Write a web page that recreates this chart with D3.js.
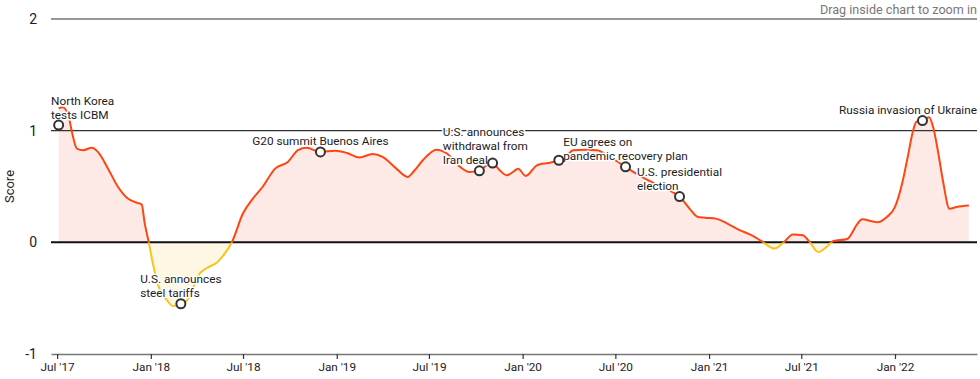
<!DOCTYPE html>
<html>
<head>
<meta charset="utf-8">
<script src="https://cdnjs.cloudflare.com/ajax/libs/d3/7.8.5/d3.min.js"></script>
<style>
	body { margin: 0; background: #fff; }
	svg { display: block; font-family: Roboto, "Noto Sans", sans-serif; }
</style>
</head>
<body>
<div id="chart"></div>
<script>
// weekly-ish readings of the score
const dates = [
	'2017-07-04', '2017-07-12', '2017-07-24', '2017-07-30', '2017-08-09', '2017-08-21', '2017-09-07', '2017-09-19',
	'2017-10-09', '2017-10-28', '2017-11-15', '2017-12-01', '2017-12-14', '2017-12-20', '2017-12-28', '2018-01-05',
	'2018-01-19', '2018-02-02', '2018-02-13', '2018-02-27', '2018-03-13', '2018-04-07', '2018-04-21', '2018-05-11',
	'2018-05-23', '2018-06-09', '2018-07-01', '2018-07-20', '2018-08-09', '2018-09-02', '2018-09-27', '2018-10-17',
	'2018-11-03', '2018-11-29', '2018-12-29', '2019-01-21', '2019-02-15', '2019-03-12', '2019-04-01', '2019-04-28',
	'2019-05-20', '2019-06-03', '2019-06-19', '2019-07-16', '2019-08-04', '2019-08-30', '2019-09-18', '2019-10-08',
	'2019-10-22', '2019-11-03', '2019-11-17', '2019-12-01', '2019-12-13', '2019-12-23', '2020-01-07', '2020-01-29',
	'2020-02-04', '2020-02-20', '2020-03-12', '2020-03-28', '2020-04-09', '2020-05-02', '2020-05-26', '2020-06-20',
	'2020-07-21', '2020-08-11', '2020-09-19', '2020-10-15', '2020-11-04', '2020-11-24', '2020-12-10', '2020-12-24',
	'2021-01-16', '2021-02-05', '2021-03-02', '2021-03-28', '2021-04-14', '2021-05-10', '2021-05-26', '2021-06-15',
	'2021-07-04', '2021-07-18', '2021-08-03', '2021-08-20', '2021-09-01', '2021-09-29', '2021-10-20', '2021-10-28',
	'2021-11-27', '2021-12-16', '2022-01-01', '2022-01-15', '2022-01-26', '2022-02-05', '2022-02-12', '2022-02-23',
	'2022-03-09', '2022-03-17', '2022-03-26', '2022-04-05', '2022-04-18', '2022-05-02', '2022-05-26'
];
const scores = [
	1.20, 1.21, 1.12, 0.99, 0.84, 0.825, 0.846, 0.81,
	0.66, 0.50, 0.40, 0.36, 0.34, 0.17, 0.0, -0.19,
	-0.43, -0.52, -0.57, -0.56, -0.52, -0.28, -0.23, -0.18,
	-0.12, 0.0, 0.26, 0.39, 0.50, 0.66, 0.72, 0.825,
	0.846, 0.81, 0.82, 0.80, 0.76, 0.79, 0.765, 0.66,
	0.586, 0.646, 0.735, 0.83, 0.80, 0.68, 0.63, 0.64,
	0.69, 0.71, 0.646, 0.60, 0.63, 0.66, 0.595, 0.69,
	0.70, 0.71, 0.735, 0.78, 0.825, 0.83, 0.825, 0.765,
	0.676, 0.615, 0.52, 0.466, 0.41, 0.30, 0.227, 0.22,
	0.21, 0.17, 0.11, 0.057, 0.01, -0.056, -0.006, 0.07,
	0.063, 0.0, -0.087, -0.04, 0.01, 0.03, 0.17, 0.206,
	0.18, 0.227, 0.317, 0.526, 0.765, 0.99, 1.08, 1.09,
	1.12, 1.03, 0.825, 0.556, 0.30, 0.317, 0.33
];

const eventDates = ['2017-07-04', '2018-03-01', '2018-11-30', '2019-10-08', '2019-11-03', '2020-03-12', '2020-07-21', '2020-11-04', '2022-02-24'];
const eventScores = [1.05, -0.55, 0.81, 0.64, 0.71, 0.735, 0.676, 0.41, 1.09];
const eventLabels = [
	['North Korea', 'tests ICBM'],
	['U.S. announces', 'steel tariffs'],
	['G20 summit Buenos Aires'],
	['U.S. announces', 'withdrawal from', 'Iran deal'],
	[],
	[],
	['EU agrees on', 'pandemic recovery plan'],
	['U.S. presidential', 'election'],
	['Russia invasion of Ukraine']
];
// small nudges for labels that were shifted to avoid collisions
const labelNudge = [0, 0, 0, 6, 0, 0, 0, 0, 0];

const yTicks = [-1, 0, 1, 2];
const yTitle = 'Score';
const hint = 'Drag inside chart to zoom in';

const option = {
	width: 980,
	height: 379,
	margin: { left: 51, right: 3, top: 19, bottom: 25 },
	posColor: '#ff4512',
	negColor: '#fcc419',
	posFill: '#fdeae6',
	negFill: '#fdf7e4',
	ink: '#1c1c1c'
};

const parse = d3.timeParse('%Y-%m-%d');
const series = dates.map((d, i) => ({ date: parse(d), value: scores[i] }));
const events = eventDates.map((d, i) => ({ date: parse(d), value: eventScores[i], lines: eventLabels[i], dx: labelNudge[i] }));

const drawRoot = function (element) {
	return d3.select(element).append('svg')
		.attr('width', option.width)
		.attr('height', option.height);
};

const makeScales = function () {
	let xScale = d3.scaleTime()
		.domain([parse('2017-06-19'), parse('2022-06-11')])
		.range([option.margin.left, option.width - option.margin.right]);
	let yScale = d3.scaleLinear()
		.domain([-1, 2])
		.range([option.height - option.margin.bottom, option.margin.top]);
	return { xScale, yScale };
};

const drawClips = function (svg, xScale, yScale) {
	let defs = svg.append('defs');
	defs.append('clipPath').attr('id', 'clipAbove')
		.append('rect')
		.attr('x', 0).attr('y', 0)
		.attr('width', option.width)
		.attr('height', yScale(0));
	defs.append('clipPath').attr('id', 'clipBelow')
		.append('rect')
		.attr('x', 0).attr('y', yScale(0))
		.attr('width', option.width)
		.attr('height', option.height - yScale(0));
};

const drawAreas = function (svg, xScale, yScale) {
	let area = d3.area()
		.curve(d3.curveMonotoneX)
		.x(d => xScale(d.date))
		.y0(yScale(0))
		.y1(d => yScale(d.value));

	svg.append('path').datum(series)
		.attr('d', area)
		.attr('fill', option.posFill)
		.attr('clip-path', 'url(#clipAbove)');
	svg.append('path').datum(series)
		.attr('d', area)
		.attr('fill', option.negFill)
		.attr('clip-path', 'url(#clipBelow)');
};

const drawAxes = function (svg, xScale, yScale) {
	let x0 = option.margin.left, x1 = option.width - option.margin.right;

	// horizontal grid at 1 and 2
	svg.append('g').selectAll('line')
		.data(yTicks.filter(t => t > 0))
		.enter().append('line')
		.attr('x1', x0).attr('x2', x1)
		.attr('y1', d => yScale(d)).attr('y2', d => yScale(d))
		.attr('stroke', '#333')
		.attr('stroke-width', 1.2);

	svg.append('g').selectAll('text')
		.data(yTicks)
		.enter().append('text')
		.attr('x', 37)
		.attr('y', d => yScale(d))
		.attr('dy', '0.35em')
		.attr('text-anchor', 'end')
		.style('font-size', '14px')
		.style('fill', option.ink)
		.text(d => d);

	svg.append('text')
		.attr('transform', `translate(14, ${yScale(0.5)}) rotate(-90)`)
		.attr('text-anchor', 'middle')
		.style('font-size', '13px')
		.style('fill', option.ink)
		.text(yTitle);

	let xAxis = svg.append('g')
		.attr('class', 'axisX')
		.attr('transform', `translate(0, ${yScale(-1)})`)
		.call(d3.axisBottom(xScale)
			.ticks(d3.timeMonth.every(6))
			.tickFormat(d3.timeFormat("%b '%y"))
			.tickSize(5)
			.tickSizeOuter(0));
	xAxis.select('.domain').attr('stroke', '#777').attr('stroke-width', 1.5);
	xAxis.selectAll('.tick line').attr('stroke', '#333').attr('stroke-width', 1.2);
	xAxis.selectAll('.tick text')
		.attr('y', 9)
		.style('font-size', '11.8px')
		.style('font-family', 'Roboto, sans-serif')
		.style('fill', option.ink);

	svg.append('text')
		.attr('x', x1)
		.attr('y', 14)
		.attr('text-anchor', 'end')
		.style('font-size', '12.6px')
		.style('fill', '#777')
		.text(hint);
};

const drawLines = function (svg, xScale, yScale) {
	let line = d3.line()
		.curve(d3.curveMonotoneX)
		.x(d => xScale(d.date))
		.y(d => yScale(d.value));

	// zero line sits under the curve
	svg.append('line')
		.attr('x1', option.margin.left).attr('x2', option.width - option.margin.right)
		.attr('y1', yScale(0)).attr('y2', yScale(0))
		.attr('stroke', '#111')
		.attr('stroke-width', 2);

	svg.append('path').datum(series)
		.attr('d', line)
		.attr('fill', 'none')
		.attr('stroke', option.posColor)
		.attr('stroke-width', 2)
		.attr('clip-path', 'url(#clipAbove)');
	svg.append('path').datum(series)
		.attr('d', line)
		.attr('fill', 'none')
		.attr('stroke', option.negColor)
		.attr('stroke-width', 2)
		.attr('clip-path', 'url(#clipBelow)');
};

const drawEvents = function (svg, xScale, yScale) {
	let left = option.margin.left, right = option.width - option.margin.right;
	let labels = svg.append('g').attr('class', 'labels');

	events.forEach(ev => {
		if (!ev.lines.length) return;
		let cx = xScale(ev.date), cy = yScale(ev.value);
		let text = labels.append('text')
			.style('font-size', '11.8px')
			.style('fill', option.ink)
			.style('stroke', '#fff')
			.style('stroke-width', 3)
			.style('stroke-linejoin', 'round')
			.style('paint-order', 'stroke');
		ev.lines.forEach((l, i) => {
			text.append('tspan')
				.attr('x', 0)
				.attr('y', cy - 6.5 - (ev.lines.length - 1 - i) * 14)
				.text(l);
		});
		let w = text.node().getBBox().width;
		let tx = cx + ev.dx - w / 2;
		tx = Math.max(left, Math.min(right - w, tx));
		text.selectAll('tspan').attr('x', tx);
	});

	svg.append('g').selectAll('circle')
		.data(events)
		.enter().append('circle')
		.attr('cx', d => xScale(d.date))
		.attr('cy', d => yScale(d.value))
		.attr('r', 4.5)
		.attr('fill', '#fff')
		.attr('stroke', '#333')
		.attr('stroke-width', 2);
};

const svg = drawRoot('#chart');
const { xScale, yScale } = makeScales();
drawClips(svg, xScale, yScale);
drawAreas(svg, xScale, yScale);
drawAxes(svg, xScale, yScale);
drawLines(svg, xScale, yScale);
drawEvents(svg, xScale, yScale);
</script>
</body>
</html>
